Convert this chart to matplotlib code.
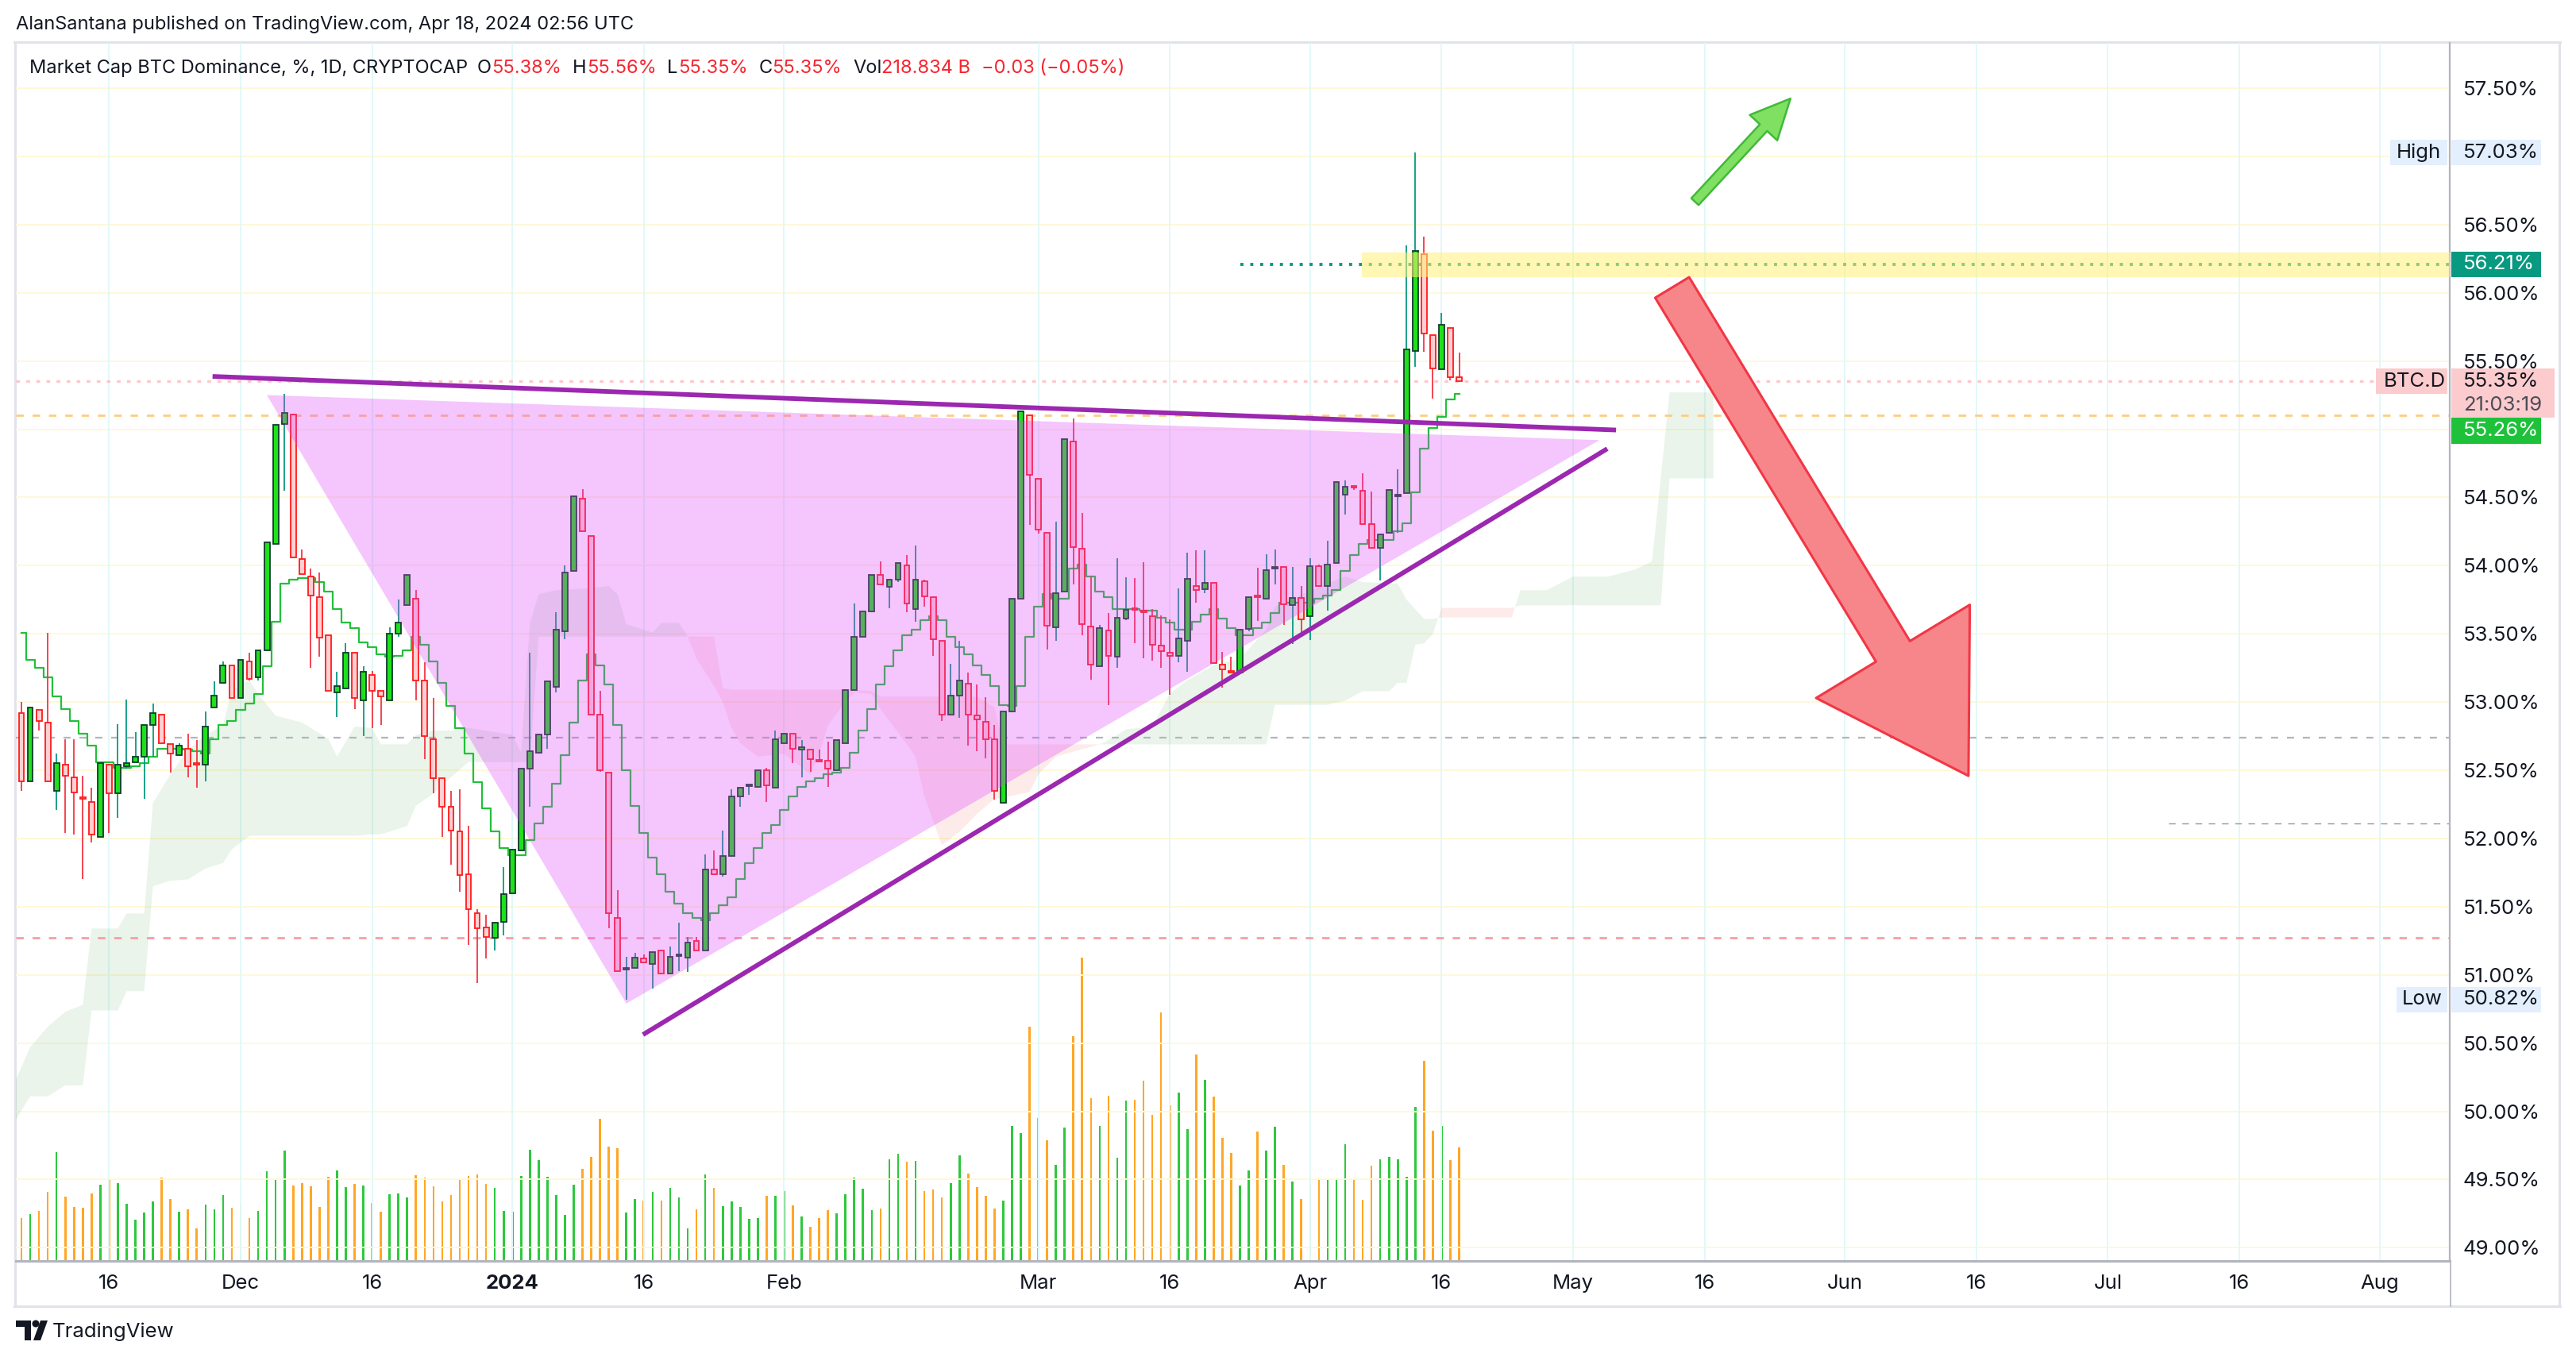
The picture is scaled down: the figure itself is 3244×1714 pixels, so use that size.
import numpy as np
import matplotlib
matplotlib.use('Agg')
import matplotlib.pyplot as plt
import matplotlib.dates as mdates
import matplotlib.transforms as mtransforms
from matplotlib.patches import Polygon, Rectangle, FancyArrowPatch, ArrowStyle, Circle
from matplotlib.lines import Line2D

plt.rcParams['font.family'] = ['Inter', 'DejaVu Sans']

W, H = 3244, 1714

# ---------------- data (daily BTC.D) ----------------
start = np.datetime64('2023-11-06')

opens = [52.92, 52.42, 52.94, 52.85, 52.35, 52.54, 52.45, 52.30, 52.27, 52.01,
         52.54, 52.33, 52.53, 52.56, 52.60, 52.83, 52.91, 52.69, 52.61, 52.66,
         52.55, 52.54, 52.96, 53.14, 53.27, 53.03, 53.30, 53.18, 53.38, 54.16,
         55.04, 55.11, 54.05, 53.92, 53.77, 53.49, 53.07, 53.10, 53.36, 53.01,
         53.20, 53.08, 53.01, 53.50, 53.71, 53.76, 53.16, 52.73, 52.44, 52.23,
         52.05, 51.74, 51.45, 51.35, 51.27, 51.39, 51.60, 51.91, 52.51, 52.63,
         52.76, 53.11, 53.52, 53.96, 54.49, 54.22, 52.91, 52.48, 51.42, 51.04,
         51.05, 51.12, 51.08, 51.18, 51.01, 51.14, 51.125, 51.25, 51.18, 51.77,
         51.74, 51.87, 52.31, 52.385, 52.38, 52.50, 52.37, 52.70, 52.77, 52.65,
         52.65, 52.57, 52.57, 52.50, 52.70, 53.09, 53.48, 53.665, 53.93, 53.845,
         53.90, 54.00, 53.68, 53.886, 53.77, 53.45, 52.906, 53.046, 53.137, 52.90,
         52.853, 52.73, 52.26, 52.93, 53.76, 55.10, 54.638, 54.24, 53.548, 53.81,
         54.91, 54.125, 53.553, 53.262, 53.522, 53.333, 53.611, 53.68, 53.665, 53.629,
         53.415, 53.36, 53.337, 53.449, 53.852, 53.827, 53.874, 53.272, 53.222, 53.217,
         53.538, 53.77, 53.76, 53.98, 53.99, 53.71, 53.763, 53.627, 53.997, 53.852,
         54.017, 54.518, 54.575, 54.551, 54.302, 54.13, 54.242, 54.51, 54.529, 55.573,
         56.283, 55.692, 55.439, 55.74, 55.38]

highs = [53.00, 52.96, 52.94, 53.51, 52.62, 52.73, 52.73, 52.46, 52.37, 52.55,
         52.54, 52.84, 53.02, 52.78, 52.83, 52.99, 52.91, 52.69, 52.70, 52.77,
         52.72, 52.93, 53.15, 53.30, 53.27, 53.31, 53.36, 53.38, 54.17, 55.03,
         55.26, 55.11, 54.12, 53.98, 53.95, 53.49, 53.22, 53.43, 53.36, 53.26,
         53.23, 53.08, 53.55, 53.75, 53.93, 53.82, 53.29, 53.03, 52.44, 52.35,
         52.36, 52.09, 51.48, 51.44, 51.39, 51.79, 51.92, 52.51, 53.36, 52.77,
         53.15, 53.66, 54.00, 54.51, 54.56, 54.22, 53.08, 52.48, 51.62, 51.13,
         51.16, 51.15, 51.17, 51.18, 51.21, 51.38, 51.28, 51.28, 51.886, 51.91,
         52.06, 52.36, 52.37, 52.39, 52.50, 52.515, 52.79, 52.77, 52.77, 52.72,
         52.65, 52.65, 52.71, 52.72, 53.09, 53.72, 53.665, 53.93, 54.03, 53.90,
         54.02, 54.075, 54.145, 53.90, 53.77, 53.45, 53.28, 53.45, 53.215, 53.13,
         53.036, 52.833, 52.93, 53.76, 55.13, 55.10, 54.638, 54.24, 54.32, 54.925,
         55.076, 54.384, 53.92, 53.566, 53.65, 54.057, 53.912, 53.91, 54.023, 53.68,
         53.634, 53.605, 53.834, 54.095, 54.113, 54.113, 53.874, 53.366, 53.33, 53.529,
         53.767, 53.983, 54.083, 54.12, 53.99, 53.99, 53.852, 54.057, 54.008, 54.184,
         54.614, 54.625, 54.575, 54.68, 54.542, 54.228, 54.554, 54.709, 56.35, 57.027,
         56.41, 55.692, 55.853, 55.74, 55.56]

lows = [52.35, 52.42, 52.79, 52.42, 52.21, 52.04, 52.03, 51.70, 51.97, 52.01,
        52.04, 52.15, 52.51, 52.56, 52.29, 52.60, 52.70, 52.48, 52.61, 52.45,
        52.37, 52.42, 52.96, 53.14, 53.03, 53.03, 53.16, 53.16, 53.38, 54.16,
        54.55, 54.06, 53.94, 53.25, 53.33, 53.08, 52.89, 53.10, 52.95, 52.75,
        52.81, 52.83, 53.01, 53.48, 53.71, 53.01, 52.58, 52.33, 52.01, 51.81,
        51.61, 51.22, 50.94, 51.12, 51.18, 51.29, 51.60, 51.91, 52.23, 52.63,
        52.66, 53.07, 53.46, 53.96, 54.25, 52.91, 52.49, 51.34, 51.03, 50.82,
        51.05, 51.09, 50.90, 51.01, 51.01, 51.03, 51.02, 51.18, 51.18, 51.74,
        51.72, 51.87, 52.235, 52.32, 52.38, 52.27, 52.37, 52.70, 52.55, 52.45,
        52.49, 52.566, 52.38, 52.50, 52.70, 53.09, 53.48, 53.66, 53.865, 53.69,
        53.88, 53.66, 53.59, 53.70, 53.34, 52.864, 52.906, 52.885, 52.68, 52.64,
        52.586, 52.287, 52.26, 52.93, 53.76, 54.30, 54.236, 53.386, 53.45, 53.81,
        53.865, 53.49, 53.166, 53.262, 52.98, 53.25, 53.60, 53.429, 53.322, 53.306,
        53.25, 53.054, 53.29, 53.22, 53.729, 53.796, 53.284, 53.106, 53.218, 53.217,
        53.52, 53.594, 53.76, 53.86, 53.567, 53.426, 53.478, 53.455, 53.852, 53.671,
        54.017, 54.375, 54.555, 54.306, 54.128, 53.894, 54.242, 54.24, 54.529, 55.459,
        55.566, 55.226, 55.439, 55.356, 55.35]

closes = [52.42, 52.96, 52.86, 52.42, 52.55, 52.46, 52.34, 52.29, 52.03, 52.55,
          52.33, 52.54, 52.55, 52.60, 52.83, 52.92, 52.70, 52.62, 52.68, 52.53,
          52.54, 52.82, 53.05, 53.27, 53.03, 53.31, 53.17, 53.38, 54.17, 55.03,
          55.12, 54.06, 53.94, 53.78, 53.47, 53.08, 53.12, 53.36, 53.03, 53.22,
          53.08, 53.04, 53.50, 53.58, 53.93, 53.16, 52.75, 52.44, 52.23, 52.06,
          51.73, 51.48, 51.34, 51.28, 51.385, 51.59, 51.92, 52.51, 52.64, 52.76,
          53.15, 53.53, 53.95, 54.51, 54.25, 52.91, 52.50, 51.45, 51.03, 51.045,
          51.125, 51.09, 51.17, 51.01, 51.135, 51.145, 51.24, 51.18, 51.77, 51.74,
          51.87, 52.31, 52.37, 52.39, 52.50, 52.39, 52.73, 52.77, 52.66, 52.67,
          52.58, 52.566, 52.51, 52.72, 53.09, 53.48, 53.665, 53.93, 53.865, 53.90,
          54.02, 53.72, 53.90, 53.777, 53.46, 52.91, 53.05, 53.158, 52.906, 52.87,
          52.73, 52.347, 52.93, 53.76, 55.13, 54.665, 54.262, 53.56, 53.80, 54.925,
          54.138, 53.574, 53.275, 53.543, 53.34, 53.618, 53.678, 53.675, 53.66, 53.422,
          53.373, 53.337, 53.466, 53.905, 53.823, 53.874, 53.284, 53.237, 53.218, 53.529,
          53.767, 53.767, 53.968, 53.985, 53.716, 53.763, 53.607, 53.994, 53.852, 54.008,
          54.614, 54.58, 54.57, 54.306, 54.128, 54.228, 54.554, 54.514, 55.585, 56.309,
          55.701, 55.445, 55.763, 55.38, 55.35]

# volume, billions
volumes = [82, 91, 97, 133, 210, 124, 104, 103, 130, 147,
           158, 150, 110, 80, 93, 115, 161, 119, 95, 99,
           62, 109, 99, 127, 103, 110, 82, 97, 173, 158,
           212, 146, 150, 144, 104, 162, 175, 142, 148, 145,
           112, 95, 129, 130, 122, 165, 161, 144, 115, 127,
           159, 164, 167, 148, 141, 96, 95, 164, 214, 194,
           162, 127, 89, 147, 177, 200, 274, 220, 217, 93,
           119, 116, 133, 116, 141, 122, 63, 99, 167, 141,
           106, 115, 104, 81, 82, 125, 125, 135, 107, 86,
           66, 82, 98, 92, 129, 160, 139, 98, 101, 196,
           207, 191, 193, 135, 138, 122, 150, 203, 168, 142,
           125, 101, 116, 260, 246, 451, 275, 233, 185, 257,
           433, 584, 314, 260, 318, 199, 309, 311, 347, 282,
           479, 300, 324, 254, 398, 349, 317, 237, 208, 145,
           174, 249, 213, 259, 185, 153, 119, 156, 156, 156,
           156, 225, 156, 118, 184, 196, 200, 196, 162, 297,
           386, 251, 260, 194, 218.834]

# ichimoku conversion line
tenkan = [53.51, 53.31, 53.25, 53.18, 53.04, 52.95, 52.86, 52.77, 52.68, 52.56,
          52.56, 52.52, 52.52, 52.53, 52.55, 52.60, 52.66, 52.66, 52.66, 52.65,
          52.64, 52.62, 52.73, 52.83, 52.86, 52.94, 52.99, 53.06, 53.26, 53.59,
          53.87, 53.90, 53.91, 53.91, 53.88, 53.81, 53.68, 53.58, 53.54, 53.44,
          53.40, 53.35, 53.33, 53.34, 53.38, 53.48, 53.42, 53.30, 53.14, 52.97,
          52.81, 52.62, 52.41, 52.22, 52.05, 51.93, 51.88, 51.88, 51.99, 52.11,
          52.23, 52.40, 52.61, 52.85, 53.16, 53.35, 53.27, 53.13, 52.83, 52.50,
          52.24, 52.04, 51.86, 51.74, 51.61, 51.52, 51.45, 51.42, 51.40, 51.45,
          51.51, 51.57, 51.70, 51.82, 51.93, 52.04, 52.10, 52.21, 52.31, 52.38,
          52.42, 52.44, 52.47, 52.48, 52.52, 52.63, 52.79, 52.95, 53.13, 53.26,
          53.38, 53.49, 53.53, 53.60, 53.63, 53.60, 53.48, 53.40, 53.35, 53.27,
          53.20, 53.12, 52.98, 52.97, 53.12, 53.48, 53.70, 53.79, 53.76, 53.76,
          53.98, 54.01, 53.92, 53.81, 53.77, 53.68, 53.68, 53.68, 53.67, 53.67,
          53.62, 53.58, 53.53, 53.53, 53.59, 53.64, 53.68, 53.61, 53.54, 53.49,
          53.49, 53.54, 53.58, 53.65, 53.73, 53.73, 53.73, 53.73, 53.76, 53.78,
          53.82, 53.96, 54.08, 54.16, 54.19, 54.19, 54.19, 54.25, 54.31, 54.54,
          54.86, 55.01, 55.09, 55.22, 55.26]

# ichimoku cloud (days after start, leading spans)
cloud_day = [-1, 1, 3, 5, 7, 8, 11, 12, 14, 15, 17, 19, 21, 23, 24, 26, 27, 29, 32, 35,
             36, 38, 40, 41, 44, 45, 47, 49, 51, 56, 57, 58, 59, 61, 64, 67, 68, 69, 72, 73,
             75, 76, 77, 79, 80, 81, 82, 84, 87, 90, 91, 92, 94, 95, 97, 98, 101, 102, 103, 104,
             105, 107, 109, 111, 112, 115, 116, 118, 123, 124, 126, 129, 131, 133, 136, 139, 142, 143, 149, 151,
             153, 156, 157, 158, 159, 160, 161, 162, 170, 171, 174, 177, 181, 184, 186, 187, 188, 193]
span_a = [50.18, 50.47, 50.62, 50.73, 50.78, 51.34, 51.34, 51.45, 51.45, 52.26, 52.47, 52.65, 52.76, 52.83, 53.09, 53.16, 53.06, 52.90, 52.85, 52.73,
          52.60, 52.82, 52.81, 52.69, 52.69, 52.76, 52.79, 52.79, 52.81, 52.76, 52.63, 53.58, 53.79, 53.82, 53.83, 53.85, 53.79, 53.57, 53.51, 53.58,
          53.58, 53.48, 53.32, 53.12, 53.00, 52.81, 52.70, 52.60, 52.62, 52.47, 52.62, 52.83, 53.00, 53.07, 53.06, 52.95, 52.69, 52.60, 52.31, 52.13,
          51.95, 52.05, 52.18, 52.29, 52.30, 52.34, 52.47, 52.60, 52.69, 52.72, 52.80, 52.82, 53.06, 53.16, 53.27, 53.32, 53.53, 53.70, 53.87, 53.92,
          53.88, 53.87, 53.87, 53.75, 53.68, 53.61, 53.61, 53.62, 53.62, 53.82, 53.82, 53.92, 53.92, 53.97, 54.03, 54.64, 55.27, 55.27]
span_b = [49.90, 50.11, 50.11, 50.19, 50.19, 50.74, 50.74, 50.88, 50.88, 51.65, 51.69, 51.70, 51.78, 51.82, 51.92, 52.02, 52.02, 52.02, 52.02, 52.02,
          52.02, 52.02, 52.03, 52.03, 52.09, 52.24, 52.33, 52.45, 52.56, 52.56, 52.56, 52.56, 53.48, 53.48, 53.48, 53.48, 53.48, 53.48, 53.48, 53.48,
          53.48, 53.48, 53.48, 53.48, 53.10, 53.09, 53.09, 53.09, 53.09, 53.09, 53.09, 53.09, 53.09, 53.09, 53.08, 53.04, 53.04, 53.04, 53.04, 53.04,
          53.04, 53.04, 53.04, 52.96, 52.69, 52.69, 52.69, 52.69, 52.69, 52.69, 52.69, 52.69, 52.69, 52.69, 52.69, 52.69, 52.69, 52.98, 52.98, 53.01,
          53.08, 53.08, 53.14, 53.14, 53.42, 53.43, 53.50, 53.69, 53.69, 53.71, 53.71, 53.71, 53.71, 53.71, 53.71, 53.71, 54.64, 54.64]

# drawings: (days after start, price)
upper_line_day, upper_line_price = [21.8, 181.9], [55.387, 54.994]
lower_line_day, lower_line_price = [70.9, 180.9], [50.562, 54.857]
tri_day, tri_price = [28.0, 180.0, 69.0], [55.25, 54.92, 50.79]
zone_day, zone_low, zone_high = 152.9, 56.113, 56.294
res_level, res_day = 56.21, 139
line_orange, line_gray, line_red, line_gray2 = 55.10, 52.74, 51.27, 52.11
line_gray2_day = 244.9
green_arrow_day, green_arrow_price = [190.9, 201.8], [56.668, 57.424]
red_arrow_day, red_arrow_price = [188.3, 222.1], [56.039, 52.459]

tick_dates = ['2023-11-16', '2023-12-01', '2023-12-16', '2024-01-01', '2024-01-16', '2024-02-01',
              '2024-03-01', '2024-03-16', '2024-04-01', '2024-04-16', '2024-05-01', '2024-05-16',
              '2024-06-01', '2024-06-16', '2024-07-01', '2024-07-16', '2024-08-01']
tick_labels = ['16', 'Dec', '16', '2024', '16', 'Feb', 'Mar', '16', 'Apr', '16', 'May', '16',
               'Jun', '16', 'Jul', '16', 'Aug']
price_ticks = [57.5, 56.5, 56.0, 55.5, 54.5, 54.0, 53.5, 53.0, 52.5, 52.0, 51.5, 51.0, 50.5, 50.0, 49.5, 49.0]
countdown = '21:03:19'

# ---------------- figure ----------------
o, h, l, c = map(np.array, (opens, highs, lows, closes))
vol = np.array(volumes)
n = len(o)
base = mdates.date2num(start)
x = base + np.arange(n)
up = c >= o

fig = plt.figure(figsize=(W / 100, H / 100), dpi=100)
fig.patch.set_facecolor('white')

def fx(px):
    return px / W

def fy(py):
    return 1 - py / H

ax = fig.add_axes([fx(20), fy(1588), fx(3085) - fx(20), fy(54) - fy(1588)])
ax.set_xlim(base - 0.634, base + 277.0)
ax.set_ylim(48.903, 57.832)

axv = ax.twinx()
axv.set_ylim(0, 2347)
axv.set_axis_off()
ax.set_zorder(2)
axv.set_zorder(1)
ax.patch.set_visible(False)

TXT = '#131722'
FS = 18.5
HFS = 17

# grid
for g in np.arange(49.0, 57.51, 0.5):
    ax.axhline(g, color='#fff8d8', lw=1.4, zorder=0)
for d in tick_dates:
    ax.axvline(mdates.date2num(np.datetime64(d)), color='#e2f8f8', lw=1.4, zorder=0)

# volume
axv.bar(x, vol, width=0.24, color=np.where(up, '#2ec83c', '#ffa726'), linewidth=0)

# cloud
cd = base + np.array(cloud_day)
sa, sb = np.array(span_a), np.array(span_b)
ax.fill_between(cd, sa, sb, where=sa >= sb, interpolate=True, color='#43a047', alpha=0.11, lw=0, zorder=1)
ax.fill_between(cd, sa, sb, where=sa < sb, interpolate=True, color='#f44336', alpha=0.10, lw=0, zorder=1)

# horizontal levels
ax.axhline(line_orange, color='#ffcc80', lw=2.0, dashes=(3.4, 4.0), zorder=1.5)
ax.axhline(line_gray, color='#b2b5be', lw=1.6, dashes=(4.0, 5.0), zorder=1.5)
ax.axhline(line_red, color='#f4a0a5', lw=2.0, dashes=(3.4, 4.0), zorder=1.5)
ax.plot([base + line_gray2_day, base + 277], [line_gray2] * 2, color='#9598a1', lw=1.0,
        dashes=(6, 6), zorder=1.5)
ax.axhline(c[-1], color='#fcc8cc', lw=2.4, dashes=(1.4, 2.4), zorder=1.6)
ax.plot([base + res_day, base + 277], [res_level] * 2, color='#089981', lw=2.8,
        dashes=(1.0, 2.2), zorder=1.6)

# tenkan
ax.plot(x, tenkan, color='#22c03a', lw=1.6, drawstyle='steps-mid', zorder=2)

# candles
body_lo = np.minimum(o, c)
body_h = np.maximum(np.abs(c - o), 0.012)
ax.vlines(x[up], l[up], h[up], color='#089981', lw=1.3, zorder=3)
ax.vlines(x[~up], l[~up], h[~up], color='#f23645', lw=1.3, zorder=3)
ax.bar(x[up], body_h[up], bottom=body_lo[up], width=0.62, color='#1fe01b',
       edgecolor='#0f3b2c', linewidth=1.3, zorder=4)
ax.bar(x[~up], body_h[~up], bottom=body_lo[~up], width=0.62, color='#ffd0d3',
       edgecolor='#ff1a1a', linewidth=1.3, zorder=4)

# yellow zone
ax.add_patch(Rectangle((base + zone_day, zone_low), 277 - zone_day, zone_high - zone_low,
                       facecolor='#fff176', alpha=0.55, lw=0, zorder=4.5))

# triangle + trend lines
ax.add_patch(Polygon(np.column_stack([base + np.array(tri_day), tri_price]), closed=True,
                     facecolor='#e040fb', alpha=0.3, lw=0, zorder=5))
ax.plot(base + np.array(upper_line_day), upper_line_price, color='#9c27b0', lw=4.2,
        solid_capstyle='butt', zorder=6)
ax.plot(base + np.array(lower_line_day), lower_line_price, color='#9c27b0', lw=4.2,
        solid_capstyle='butt', zorder=6)

# arrows
ga = FancyArrowPatch((base + green_arrow_day[0], green_arrow_price[0]),
                     (base + green_arrow_day[1], green_arrow_price[1]),
                     arrowstyle=ArrowStyle.Simple(head_length=36, head_width=34, tail_width=9),
                     shrinkA=0, shrinkB=0, facecolor='#7fe062', edgecolor='#43b83a', lw=1.8,
                     mutation_scale=1, zorder=7)
ax.add_patch(ga)
ra = FancyArrowPatch((base + red_arrow_day[0], red_arrow_price[0]),
                     (base + red_arrow_day[1], red_arrow_price[1]),
                     arrowstyle=ArrowStyle.Simple(head_length=132, head_width=163, tail_width=36),
                     shrinkA=0, shrinkB=0, facecolor='#f7868b', edgecolor='#f23645', lw=2.2,
                     mutation_scale=1, zorder=7)
ax.add_patch(ra)

# axes styling
for s in ('top', 'left'):
    ax.spines[s].set_visible(False)
ax.spines['right'].set_color('#b2b5be')
ax.spines['right'].set_linewidth(1.6)
ax.spines['bottom'].set_color('#b2b5be')
ax.spines['bottom'].set_linewidth(2.2)

ax.yaxis.tick_right()
ax.set_yticks(price_ticks)
ax.set_yticklabels([f'{p:.2f}%' for p in price_ticks])
ax.tick_params(axis='y', length=0, pad=12, labelsize=FS, labelcolor=TXT)
ax.set_xticks(mdates.date2num(np.array(tick_dates, dtype='datetime64[D]')))
ax.set_xticklabels(tick_labels)
ax.tick_params(axis='x', length=0, pad=12, labelsize=FS, labelcolor=TXT)
for t in ax.get_xticklabels():
    if t.get_text() == '2024':
        t.set_fontweight('bold')

# ---------------- price-scale labels ----------------
ident = mtransforms.IdentityTransform()

def ypix(p):
    return ax.transData.transform((base, p))[1]

def tag(x0, x1, yc, hgt, color, txt, tcol, ha='left', tx=None):
    fig.add_artist(Rectangle((x0, yc - hgt / 2), x1 - x0, hgt, transform=ident,
                             facecolor=color, lw=0, zorder=10))
    if tx is None:
        tx = x0 + 15
    fig.text(tx, yc, txt, transform=ident, ha=ha, va='center', color=tcol, fontsize=FS, zorder=11)

yh = ypix(max(highs))
tag(3010, 3082, yh, 32, '#e3effd', 'High', TXT, ha='center', tx=3046)
tag(3087, 3200, yh, 32, '#e3effd', f'{max(highs):.2f}%', TXT)
yl = ypix(min(lows))
tag(3018, 3082, yl, 32, '#e3effd', 'Low', TXT, ha='center', tx=3050)
tag(3087, 3200, yl, 32, '#e3effd', f'{min(lows):.2f}%', TXT)
tag(3087, 3200, ypix(res_level), 32, '#089981', f'{res_level:.2f}%', 'white')
yc = ypix(c[-1])
tag(2992, 3082, yc, 32, '#fccbcd', 'BTC.D', TXT, tx=3002)
fig.add_artist(Rectangle((3087, yc - 46), 130, 62, transform=ident, facecolor='#fccbcd',
                         lw=0, zorder=10))
fig.text(3102, yc, f'{c[-1]:.2f}%', transform=ident, ha='left', va='center', color=TXT,
         fontsize=FS, zorder=11)
fig.text(3102, yc - 30, countdown, transform=ident, ha='left', va='center', color='#4a4d57',
         fontsize=FS, zorder=11)
tag(3087, 3200, ypix(tenkan[-1]) - 47, 33, '#1ec23a', f'{tenkan[-1]:.2f}%', 'white')

# ---------------- frame & header ----------------
frame = dict(color='#e0e3eb', lw=2.2, transform=fig.transFigure)
fig.add_artist(Line2D([fx(18), fx(3224)], [fy(53), fy(53)], **frame))
fig.add_artist(Line2D([fx(18), fx(3224)], [fy(1645), fy(1645)], **frame))
fig.add_artist(Line2D([fx(19), fx(19)], [fy(53), fy(1645)], **frame))
fig.add_artist(Line2D([fx(3223), fx(3223)], [fy(53), fy(1645)], **frame))
fig.add_artist(Line2D([fx(3086), fx(3086)], [fy(1588), fy(1645)], color='#b2b5be', lw=1.2,
                      transform=fig.transFigure))

fig.text(fx(20), fy(31), 'AlanSantana published on TradingView.com, Apr 18, 2024 02:56 UTC',
         ha='left', va='center', fontsize=HFS, color=TXT)

RED = '#f7252f'
chg = c[-1] - c[-2]
pieces = [('Market Cap BTC Dominance, %, 1D, CRYPTOCAP', TXT, 12),
          ('O', TXT, 0), (f'{o[-1]:.2f}%', RED, 14),
          ('H', TXT, 0), (f'{h[-1]:.2f}%', RED, 14),
          ('L', TXT, 0), (f'{l[-1]:.2f}%', RED, 14),
          ('C', TXT, 0), (f'{c[-1]:.2f}%', RED, 14),
          ('Vol', TXT, 0), (f'{vol[-1]:.3f} B', RED, 14),
          (f'\u2212{abs(chg):.2f} (\u2212{abs(chg) / c[-2] * 100:.2f}%)', RED, 0)]
renderer = fig.canvas.get_renderer()
xpos = 37
for txt, col, gap in pieces:
    t = fig.text(fx(xpos), fy(86), txt, ha='left', va='center', fontsize=HFS, color=col)
    xpos += t.get_window_extent(renderer).width + gap

# logo
logo = '#131722'
fig.add_artist(Rectangle((20, H - 1671), 19, 8, transform=ident, facecolor=logo, lw=0))
fig.add_artist(Rectangle((31, H - 1688), 8, 25, transform=ident, facecolor=logo, lw=0))
fig.add_artist(Circle((45, H - 1667), 4.5, transform=ident, facecolor=logo, lw=0))
fig.add_artist(Polygon([(42, H - 1688), (51, H - 1663), (60, H - 1663), (51, H - 1688)],
                       transform=ident, facecolor=logo, lw=0))
fig.text(fx(66), fy(1677), 'TradingView', ha='left', va='center', fontsize=18.5, color=logo)

fig.savefig('out.png', dpi=100, facecolor='white')
